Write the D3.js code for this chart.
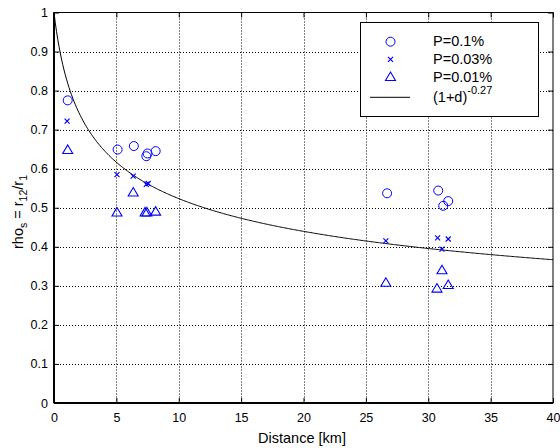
<!DOCTYPE html>
<html>
<head>
<meta charset="UTF-8">
<script src="https://cdn.jsdelivr.net/npm/d3@7"></script>
<style>
  body { margin: 0; background: #fff; }
  text { font-family: "Liberation Sans", Arial, sans-serif; font-size: 12.5px; fill: #000; }
  .grid line { stroke: #000; stroke-width: 1; stroke-dasharray: 1,2; }
</style>
</head>
<body>
<svg id="chart"></svg>
<script>
// data
var circleX = [1.1, 5.1, 6.4, 7.4, 7.5, 8.15, 26.7, 30.8, 31.2, 31.6];
var circleY = [0.775, 0.649, 0.658, 0.632, 0.639, 0.645, 0.537, 0.544, 0.505, 0.517];

var crossX = [1.05, 5.05, 6.35, 7.4, 7.55, 26.6, 30.75, 31.6, 31.1];
var crossY = [0.722, 0.585, 0.581, 0.560, 0.562, 0.415, 0.423, 0.420, 0.394];

var triX = [1.1, 5.05, 6.35, 7.3, 7.45, 8.15, 26.6, 31.1, 30.7, 31.6];
var triY = [0.648, 0.488, 0.539, 0.488, 0.488, 0.490, 0.308, 0.340, 0.293, 0.302];

var xTicks = [0, 5, 10, 15, 20, 25, 30, 35, 40];
var yTicks = [0, 0.1, 0.2, 0.3, 0.4, 0.5, 0.6, 0.7, 0.8, 0.9, 1];
var legendLabels = ["P=0.1%", "P=0.03%", "P=0.01%"];

var width = 560, height = 448;
var pLeft = 54, pRight = 553, pTop = 12.5, pBottom = 403;
var blue = "#0000ff";

var svg = d3.select("#chart").attr("width", width).attr("height", height);

var x = d3.scaleLinear().domain([0, 40]).range([pLeft, pRight]);
var y = d3.scaleLinear().domain([0, 1]).range([pBottom, pTop]);

// grid
var grid = svg.append("g").attr("class", "grid");
grid.selectAll(".gx").data(xTicks.slice(1, -1)).enter().append("line")
    .attr("x1", function (d) { return Math.round(x(d)) + 0.5; })
    .attr("x2", function (d) { return Math.round(x(d)) + 0.5; })
    .attr("y1", pTop).attr("y2", pBottom);
grid.selectAll(".gy").data(yTicks.slice(1, -1)).enter().append("line")
    .attr("y1", function (d) { return Math.round(y(d)) + 0.5; })
    .attr("y2", function (d) { return Math.round(y(d)) + 0.5; })
    .attr("x1", pLeft).attr("x2", pRight);

// axes with inward ticks
function styleAxis(g) {
    g.select(".domain").remove();
    g.selectAll("line").attr("stroke", "#000");
    g.selectAll("text").style("font-family", "Liberation Sans, Arial, sans-serif").style("font-size", "12.5px");
}
svg.append("g").attr("transform", "translate(0," + pBottom + ")")
    .call(d3.axisBottom(x).tickValues(xTicks).tickSizeInner(-5).tickSizeOuter(0).tickPadding(10).tickFormat(d3.format("d")))
    .call(styleAxis);
svg.append("g").attr("transform", "translate(0," + pTop + ")")
    .call(d3.axisTop(x).tickValues(xTicks).tickSizeInner(-5).tickSizeOuter(0).tickFormat(""))
    .call(styleAxis);
svg.append("g").attr("transform", "translate(" + pLeft + ",0)")
    .call(d3.axisLeft(y).tickValues(yTicks).tickSizeInner(-5).tickSizeOuter(0).tickPadding(6)
        .tickFormat(function (d) { return d === 0 || d === 1 ? d3.format("d")(d) : d3.format(".1f")(d); }))
    .call(styleAxis);
svg.append("g").attr("transform", "translate(" + pRight + ",0)")
    .call(d3.axisRight(y).tickValues(yTicks).tickSizeInner(-5).tickSizeOuter(0).tickFormat(""))
    .call(styleAxis);

// box
svg.append("rect").attr("x", pLeft).attr("y", pTop)
    .attr("width", pRight - pLeft).attr("height", pBottom - pTop)
    .attr("fill", "none").attr("stroke", "#000").attr("stroke-width", 1);
svg.append("line").attr("x1", pLeft).attr("x2", pLeft).attr("y1", pTop).attr("y2", pBottom)
    .attr("stroke", "#000").attr("stroke-width", 2);
svg.append("line").attr("x1", pLeft).attr("x2", pRight).attr("y1", pBottom).attr("y2", pBottom)
    .attr("stroke", "#000").attr("stroke-width", 2);

// model curve (1+d)^-0.27
var curveD = d3.range(0, 40.01, 0.1);
var line = d3.line()
    .x(function (d) { return x(d); })
    .y(function (d) { return y(Math.pow(1 + d, -0.27)); });
svg.append("path").datum(curveD).attr("d", line)
    .attr("fill", "none").attr("stroke", "#000").attr("stroke-width", 1);

// markers
var crossD = "M-2.5,-2.5L2.5,2.5M-2.5,2.5L2.5,-2.5";
var triD = "M0,-5L5,3.5L-5,3.5Z";
function drawCircles(g, xs, ys) {
    g.selectAll("circle").data(xs).enter().append("circle")
        .attr("cx", function (d) { return x(d); })
        .attr("cy", function (d, i) { return y(ys[i]); })
        .attr("r", 4.5).attr("fill", "none").attr("stroke", blue).attr("stroke-width", 1);
}
function drawCrosses(g, xs, ys) {
    g.selectAll("path").data(xs).enter().append("path")
        .attr("d", crossD)
        .attr("transform", function (d, i) { return "translate(" + x(d) + "," + y(ys[i]) + ")"; })
        .attr("stroke", blue).attr("stroke-width", 1.2);
}
function drawTris(g, xs, ys) {
    g.selectAll("path").data(xs).enter().append("path")
        .attr("d", triD)
        .attr("transform", function (d, i) { return "translate(" + x(d) + "," + y(ys[i]) + ")"; })
        .attr("fill", "none").attr("stroke", blue).attr("stroke-width", 1.1);
}
drawCircles(svg.append("g"), circleX, circleY);
drawCrosses(svg.append("g"), crossX, crossY);
drawTris(svg.append("g"), triX, triY);

// axis labels
svg.append("text").attr("x", 302).attr("y", 443)
    .attr("text-anchor", "middle").style("font-size", "14.5px").text("Distance [km]");
var yl = svg.append("text").attr("transform", "translate(23,212) rotate(-90)")
    .attr("text-anchor", "middle").style("font-size", "14.5px");
yl.append("tspan").text("rho");
yl.append("tspan").attr("dy", 4).style("font-size", "10.5px").text("s");
yl.append("tspan").attr("dy", -4).text(" = r");
yl.append("tspan").attr("dy", 4).style("font-size", "10.5px").text("12");
yl.append("tspan").attr("dy", -4).text("/r");
yl.append("tspan").attr("dy", 4).style("font-size", "10.5px").text("1");

// legend
var lg = svg.append("g");
lg.append("rect").attr("x", 360.5).attr("y", 22.5).attr("width", 178).attr("height", 94)
    .attr("fill", "#fff").attr("stroke", "#000").attr("stroke-width", 1);
var rowY = [41.7, 59.3, 77, 97.3];
var textY = [46, 64, 82, 102];
var mx = 390.5, tx = 433;
lg.append("circle").attr("cx", mx).attr("cy", rowY[0]).attr("r", 4.5)
    .attr("fill", "none").attr("stroke", blue);
lg.append("path").attr("d", crossD)
    .attr("transform", "translate(" + mx + "," + rowY[1] + ")").attr("stroke", blue).attr("stroke-width", 1.2);
lg.append("path").attr("d", triD)
    .attr("transform", "translate(" + mx + "," + rowY[2] + ")").attr("fill", "none").attr("stroke", blue).attr("stroke-width", 1.1);
lg.append("line").attr("x1", 370).attr("x2", 410).attr("y1", rowY[3]).attr("y2", rowY[3])
    .attr("stroke", "#000");
lg.selectAll(".lt").data(legendLabels).enter().append("text")
    .attr("x", tx).attr("y", function (d, i) { return textY[i]; })
    .style("font-size", "14.5px")
    .text(function (d) { return d; });
var ft = lg.append("text").attr("x", tx).attr("y", textY[3]).style("font-size", "14.5px");
ft.append("tspan").text("(1+d)");
ft.append("tspan").attr("dy", -8).style("font-size", "11px").text("-0.27");
</script>
</body>
</html>
